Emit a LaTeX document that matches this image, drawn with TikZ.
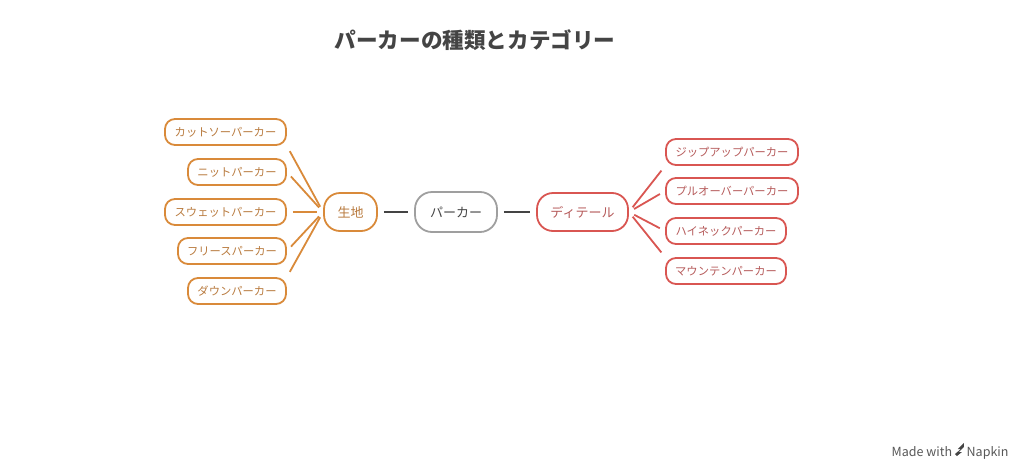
\documentclass[tikz,border=0pt]{standalone}
\usepackage{fontspec}
\setmainfont{Noto Sans CJK JP}
\begin{document}
\begin{tikzpicture}[x=1pt,y=-1pt,
  box/.style={draw,line width=1.8pt,rounded corners=10pt,minimum height=26pt,inner xsep=6pt,font=\fontsize{11.3}{13}\selectfont},
  ora/.style={box,draw=orangeC,text=orangeT},
  red/.style={box,draw=redC,text=redT},
  ol/.style={draw=orangeC,line width=1.8pt,shorten <=6pt,shorten >=6pt},
  rl/.style={draw=redC,line width=1.8pt,shorten <=6pt,shorten >=6pt},
  cl/.style={draw=darkC,line width=1.8pt,shorten <=6pt,shorten >=6pt}]
\definecolor{orangeC}{HTML}{D98A3A}
\definecolor{orangeT}{HTML}{B87A3E}
\definecolor{redC}{HTML}{D95652}
\definecolor{redT}{HTML}{B55A5A}
\definecolor{darkC}{HTML}{444444}
\useasboundingbox (0,0) rectangle (1024,471);
\node[font=\bfseries\fontsize{21.6}{26}\selectfont,text=darkC] (title) at (475,40) {パーカーの種類とカテゴリー};
\node[box,draw=gray!75,text=darkC,minimum width=82pt,minimum height=40pt,rounded corners=17pt,font=\fontsize{13}{15}\selectfont] (c) at (456,212) {パーカー};
\node[ora,minimum width=53pt,minimum height=38pt,rounded corners=16pt,font=\fontsize{13}{15}\selectfont] (s) at (350.5,212) {生地};
\node[red,minimum width=91pt,minimum height=38pt,rounded corners=16pt,font=\fontsize{13}{15}\selectfont] (d) at (582.5,212) {ディテール};
\node[ora,minimum width=121pt] (l1) at (225.5,132) {カットソーパーカー};
\node[ora,minimum width=98pt] (l2) at (237,172) {ニットパーカー};
\node[ora,minimum width=121pt] (l3) at (225.5,212) {スウェットパーカー};
\node[ora,minimum width=108pt] (l4) at (232,251) {フリースパーカー};
\node[ora,minimum width=98pt] (l5) at (237,291) {ダウンパーカー};
\node[red,minimum width=132pt] (r1) at (732,152) {ジップアップパーカー};
\node[red,minimum width=132pt] (r2) at (732,191) {プルオーバーパーカー};
\node[red,minimum width=120pt] (r3) at (726,231) {ハイネックパーカー};
\node[red,minimum width=120pt] (r4) at (726,271) {マウンテンパーカー};
\draw[cl] (s) -- (c);
\draw[cl] (c) -- (d);
\draw[ol] (l1.south east) -- (s.west);
\draw[ol] (l2.east) -- (s.west);
\draw[ol] (l3.east) -- (s.west);
\draw[ol] (l4.east) -- (s.west);
\draw[ol] (l5.north east) -- (s.west);
\draw[rl] (d.east) -- (r1.south west);
\draw[rl] (d.east) -- (r2.west);
\draw[rl] (d.east) -- (r3.west);
\draw[rl] (d.east) -- (r4.north west);
\node[anchor=east,text=darkC!90,font=\fontsize{12.5}{14}\selectfont] (mw) at (1012,451) {Made with \tikz[x=1pt,y=1pt]\fill[darkC] (0,0) -- (6,5) -- (3,5) -- (9,11) -- (9,7) -- (4,2) -- (7,2) -- (2,-2) -- cycle; Napkin};
\end{tikzpicture}
\end{document}
